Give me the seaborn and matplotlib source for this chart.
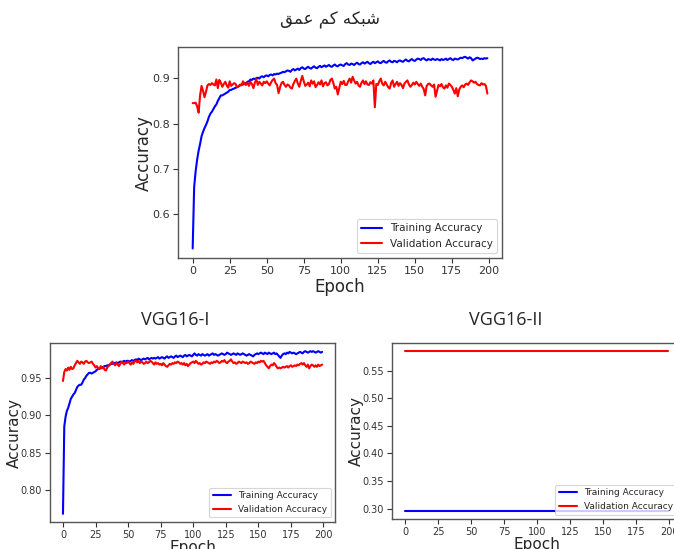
"""
plot.py
───────
Training / validation accuracy curves for three networks:
a shallow net (top), VGG16-I and VGG16-II (bottom row).
"""

import matplotlib
matplotlib.use('Agg')
import matplotlib.pyplot as plt
import seaborn as sns


# ── data ───────────────────────────────────────────────────────────────────────

EPOCHS = list(range(200))

# shallow network (title: شبکه کم عمق)
SHALLOW_TRAIN = [
    0.525, 0.660, 0.695, 0.720, 0.740, 0.755, 0.772, 0.782, 0.790, 0.797,
    0.805, 0.815, 0.822, 0.826, 0.832, 0.838, 0.842, 0.850, 0.856, 0.862,
    0.862, 0.864, 0.866, 0.868, 0.870, 0.874, 0.874, 0.876, 0.877, 0.879,
    0.880, 0.882, 0.884, 0.886, 0.886, 0.888, 0.889, 0.892, 0.893, 0.897,
    0.896, 0.899, 0.898, 0.900, 0.901, 0.899, 0.903, 0.904, 0.902, 0.905,
    0.906, 0.904, 0.907, 0.908, 0.906, 0.909, 0.908, 0.910, 0.909, 0.911,
    0.912, 0.914, 0.913, 0.915, 0.917, 0.916, 0.914, 0.918, 0.920, 0.917,
    0.919, 0.921, 0.918, 0.922, 0.924, 0.921, 0.920, 0.923, 0.925, 0.922,
    0.921, 0.924, 0.926, 0.923, 0.922, 0.925, 0.927, 0.924, 0.926, 0.928,
    0.925, 0.927, 0.929, 0.926, 0.925, 0.928, 0.930, 0.927, 0.926, 0.929,
    0.930, 0.928, 0.927, 0.931, 0.933, 0.930, 0.929, 0.932, 0.931, 0.929,
    0.932, 0.934, 0.931, 0.930, 0.933, 0.935, 0.932, 0.934, 0.936, 0.933,
    0.931, 0.934, 0.936, 0.933, 0.935, 0.937, 0.934, 0.933, 0.936, 0.938,
    0.935, 0.934, 0.937, 0.939, 0.936, 0.935, 0.938, 0.937, 0.935, 0.938,
    0.939, 0.937, 0.936, 0.939, 0.941, 0.938, 0.937, 0.940, 0.942, 0.939,
    0.938, 0.941, 0.943, 0.942, 0.940, 0.943, 0.944, 0.941, 0.939, 0.942,
    0.941, 0.940, 0.943, 0.941, 0.940, 0.942, 0.941, 0.939, 0.942, 0.940,
    0.941, 0.943, 0.940, 0.942, 0.944, 0.941, 0.940, 0.943, 0.942, 0.941,
    0.943, 0.945, 0.944, 0.946, 0.947, 0.945, 0.943, 0.946, 0.944, 0.939,
    0.941, 0.943, 0.945, 0.944, 0.942, 0.943, 0.942, 0.944, 0.943, 0.944,
]
SHALLOW_VAL = [
    0.845, 0.845, 0.846, 0.838, 0.824, 0.862, 0.883, 0.872, 0.858, 0.870,
    0.884, 0.887, 0.885, 0.889, 0.886, 0.884, 0.897, 0.878, 0.896, 0.890,
    0.881, 0.887, 0.892, 0.884, 0.879, 0.893, 0.883, 0.886, 0.889, 0.887,
    0.880, 0.882, 0.886, 0.884, 0.893, 0.887, 0.885, 0.890, 0.883, 0.892,
    0.887, 0.878, 0.890, 0.898, 0.885, 0.892, 0.888, 0.884, 0.892, 0.889,
    0.893, 0.888, 0.884, 0.891, 0.896, 0.899, 0.889, 0.885, 0.867, 0.880,
    0.889, 0.892, 0.885, 0.881, 0.886, 0.884, 0.879, 0.877, 0.887, 0.894,
    0.899, 0.888, 0.881, 0.894, 0.905, 0.893, 0.883, 0.886, 0.890, 0.882,
    0.895, 0.888, 0.893, 0.880, 0.885, 0.891, 0.886, 0.895, 0.882, 0.889,
    0.891, 0.884, 0.887, 0.896, 0.899, 0.889, 0.877, 0.881, 0.864, 0.879,
    0.892, 0.887, 0.894, 0.885, 0.885, 0.893, 0.899, 0.890, 0.903, 0.895,
    0.888, 0.892, 0.884, 0.881, 0.890, 0.895, 0.887, 0.893, 0.886, 0.885,
    0.891, 0.888, 0.895, 0.836, 0.887, 0.885, 0.893, 0.899, 0.888, 0.884,
    0.892, 0.886, 0.880, 0.877, 0.889, 0.895, 0.881, 0.887, 0.892, 0.883,
    0.889, 0.885, 0.878, 0.888, 0.892, 0.895, 0.886, 0.881, 0.885, 0.890,
    0.886, 0.892, 0.887, 0.883, 0.888, 0.881, 0.876, 0.862, 0.883, 0.887,
    0.888, 0.884, 0.881, 0.886, 0.859, 0.872, 0.885, 0.882, 0.887, 0.880,
    0.877, 0.884, 0.879, 0.888, 0.885, 0.881, 0.874, 0.866, 0.878, 0.860,
    0.875, 0.881, 0.884, 0.880, 0.886, 0.888, 0.885, 0.891, 0.895, 0.893,
    0.890, 0.892, 0.887, 0.885, 0.884, 0.889, 0.886, 0.887, 0.883, 0.866,
]

# VGG16-I
VGG1_TRAIN = [
    0.768, 0.885, 0.898, 0.906, 0.910, 0.916, 0.922, 0.925, 0.928, 0.930,
    0.934, 0.938, 0.940, 0.941, 0.941, 0.944, 0.948, 0.950, 0.953, 0.955,
    0.957, 0.957, 0.956, 0.957, 0.958, 0.959, 0.961, 0.962, 0.963, 0.963,
    0.964, 0.965, 0.966, 0.966, 0.967, 0.967, 0.968, 0.969, 0.969, 0.970,
    0.970, 0.971, 0.970, 0.971, 0.972, 0.971, 0.972, 0.973, 0.972, 0.973,
    0.973, 0.972, 0.973, 0.974, 0.973, 0.974, 0.975, 0.974, 0.976, 0.975,
    0.974, 0.975, 0.976, 0.975, 0.976, 0.977, 0.975, 0.976, 0.977, 0.976,
    0.977, 0.976, 0.977, 0.978, 0.976, 0.977, 0.978, 0.977, 0.976, 0.978,
    0.979, 0.977, 0.978, 0.979, 0.978, 0.977, 0.979, 0.980, 0.978, 0.979,
    0.980, 0.979, 0.978, 0.980, 0.981, 0.979, 0.980, 0.981, 0.980, 0.979,
    0.981, 0.983, 0.981, 0.980, 0.982, 0.981, 0.980, 0.982, 0.981, 0.980,
    0.981, 0.982, 0.980, 0.981, 0.982, 0.983, 0.981, 0.982, 0.981, 0.980,
    0.981, 0.982, 0.983, 0.982, 0.981, 0.982, 0.984, 0.983, 0.982, 0.981,
    0.982, 0.983, 0.982, 0.981, 0.983, 0.982, 0.981, 0.982, 0.983, 0.982,
    0.981, 0.980, 0.981, 0.982, 0.981, 0.980, 0.979, 0.981, 0.982, 0.983,
    0.982, 0.983, 0.984, 0.983, 0.982, 0.984, 0.983, 0.982, 0.984, 0.983,
    0.982, 0.983, 0.984, 0.982, 0.983, 0.981, 0.979, 0.977, 0.980, 0.982,
    0.983, 0.982, 0.984, 0.983, 0.985, 0.984, 0.983, 0.984, 0.983, 0.982,
    0.983, 0.984, 0.985, 0.984, 0.983, 0.985, 0.986, 0.985, 0.984, 0.985,
    0.986, 0.985, 0.986, 0.985, 0.984, 0.985, 0.986, 0.985, 0.984, 0.985,
]
VGG1_VAL = [
    0.946, 0.958, 0.962, 0.960, 0.964, 0.961, 0.965, 0.962, 0.963, 0.967,
    0.970, 0.973, 0.971, 0.969, 0.972, 0.971, 0.969, 0.972, 0.973, 0.971,
    0.970, 0.971, 0.972, 0.969, 0.967, 0.964, 0.966, 0.963, 0.962, 0.966,
    0.963, 0.965, 0.961, 0.960, 0.964, 0.966, 0.968, 0.970, 0.972, 0.969,
    0.967, 0.970, 0.968, 0.966, 0.969, 0.972, 0.970, 0.968, 0.971, 0.970,
    0.972, 0.970, 0.968, 0.971, 0.969, 0.972, 0.973, 0.971, 0.973, 0.970,
    0.972, 0.971, 0.969, 0.970, 0.972, 0.970, 0.971, 0.973, 0.972, 0.970,
    0.968, 0.971, 0.969, 0.970, 0.968, 0.969, 0.967, 0.970, 0.968, 0.966,
    0.965, 0.967, 0.969, 0.968, 0.970, 0.969, 0.971, 0.970, 0.972, 0.971,
    0.969, 0.970, 0.968, 0.970, 0.967, 0.969, 0.966, 0.968, 0.970, 0.971,
    0.972, 0.970, 0.973, 0.971, 0.969, 0.970, 0.968, 0.969, 0.971, 0.970,
    0.972, 0.971, 0.970, 0.969, 0.971, 0.970, 0.972, 0.971, 0.973, 0.972,
    0.970, 0.971, 0.973, 0.972, 0.974, 0.971, 0.970, 0.972, 0.973, 0.975,
    0.972, 0.970, 0.971, 0.969, 0.970, 0.972, 0.971, 0.970, 0.972, 0.971,
    0.970, 0.971, 0.969, 0.970, 0.972, 0.971, 0.970, 0.969, 0.971, 0.970,
    0.972, 0.971, 0.973, 0.972, 0.973, 0.970, 0.967, 0.965, 0.963, 0.966,
    0.968, 0.967, 0.970, 0.968, 0.965, 0.963, 0.964, 0.963, 0.964, 0.965,
    0.964, 0.965, 0.966, 0.964, 0.966, 0.967, 0.965, 0.966, 0.967, 0.966,
    0.968, 0.967, 0.969, 0.970, 0.968, 0.970, 0.967, 0.965, 0.968, 0.963,
    0.966, 0.968, 0.967, 0.965, 0.967, 0.965, 0.968, 0.966, 0.967, 0.968,
]

# VGG16-II — both curves stay flat for all 200 epochs
VGG2_TRAIN = [0.2958] * len(EPOCHS)
VGG2_VAL   = [0.5853] * len(EPOCHS)

# matplotlib has no Arabic shaping, so the title is stored in
# presentation forms, in visual (left-to-right) order
TITLE_SHALLOW = 'ﻖﻤﻋ ﻢﮐ ﻪﮑﺒﺷ'   # شبکه کم عمق
TITLE_VGG1    = 'VGG16-I'
TITLE_VGG2    = 'VGG16-II'


# ── style ──────────────────────────────────────────────────────────────────────

sns.set_theme(style='ticks')
plt.rcParams['font.family'] = ['DejaVu Sans']
plt.rcParams['axes.edgecolor'] = '#555555'
plt.rcParams['axes.linewidth'] = 1.0
plt.rcParams['xtick.color'] = '#333333'
plt.rcParams['ytick.color'] = '#333333'


def draw(ax, train, val, tick_size, label_size, legend_size, ylab_x, xlab_y):
    sns.lineplot(x=EPOCHS, y=train, color='blue', lw=1.5,
                 label='Training Accuracy', ax=ax)
    sns.lineplot(x=EPOCHS, y=val, color='red', lw=1.5,
                 label='Validation Accuracy', ax=ax)
    ax.set_xticks([0, 25, 50, 75, 100, 125, 150, 175, 200])
    ax.tick_params(labelsize=tick_size, length=3.5, width=0.8, pad=2.5)
    ax.set_xlabel('Epoch', fontsize=label_size)
    ax.set_ylabel('Accuracy', fontsize=label_size)
    ax.yaxis.set_label_coords(ylab_x, 0.5)
    ax.xaxis.set_label_coords(0.5, xlab_y)
    leg = ax.legend(loc='lower right', fontsize=legend_size,
                    frameon=True, fancybox=True, framealpha=0.8,
                    edgecolor='#cccccc', handlelength=2.0)
    leg.get_frame().set_linewidth(0.8)


# ── figure ─────────────────────────────────────────────────────────────────────

fig = plt.figure(figsize=(6.74, 5.49), dpi=100)

ax_top = fig.add_axes([0.264, 0.530, 0.481, 0.384])
draw(ax_top, SHALLOW_TRAIN, SHALLOW_VAL, 8, 12, 7.5, -0.077, -0.095)

ax_bl = fig.add_axes([0.0742, 0.0492, 0.423, 0.326])
draw(ax_bl, VGG1_TRAIN, VGG1_VAL, 7, 11, 6.5, -0.098, -0.10)

ax_br = fig.add_axes([0.5816, 0.0546, 0.429, 0.3206])
draw(ax_br, VGG2_TRAIN, VGG2_VAL, 7, 11, 6.5, -0.097, -0.10)

fig.text(0.490, 0.963, TITLE_SHALLOW, ha='center', va='center',
         fontsize=12, family=['DejaVu Sans'])
fig.text(0.260, 0.417, TITLE_VGG1, ha='center', va='center', fontsize=13,
         family=['Open Sans', 'DejaVu Sans'])
fig.text(0.750, 0.417, TITLE_VGG2, ha='center', va='center', fontsize=13,
         family=['Open Sans', 'DejaVu Sans'])

fig.savefig('out.png', dpi=100, facecolor='white')
plt.close(fig)
